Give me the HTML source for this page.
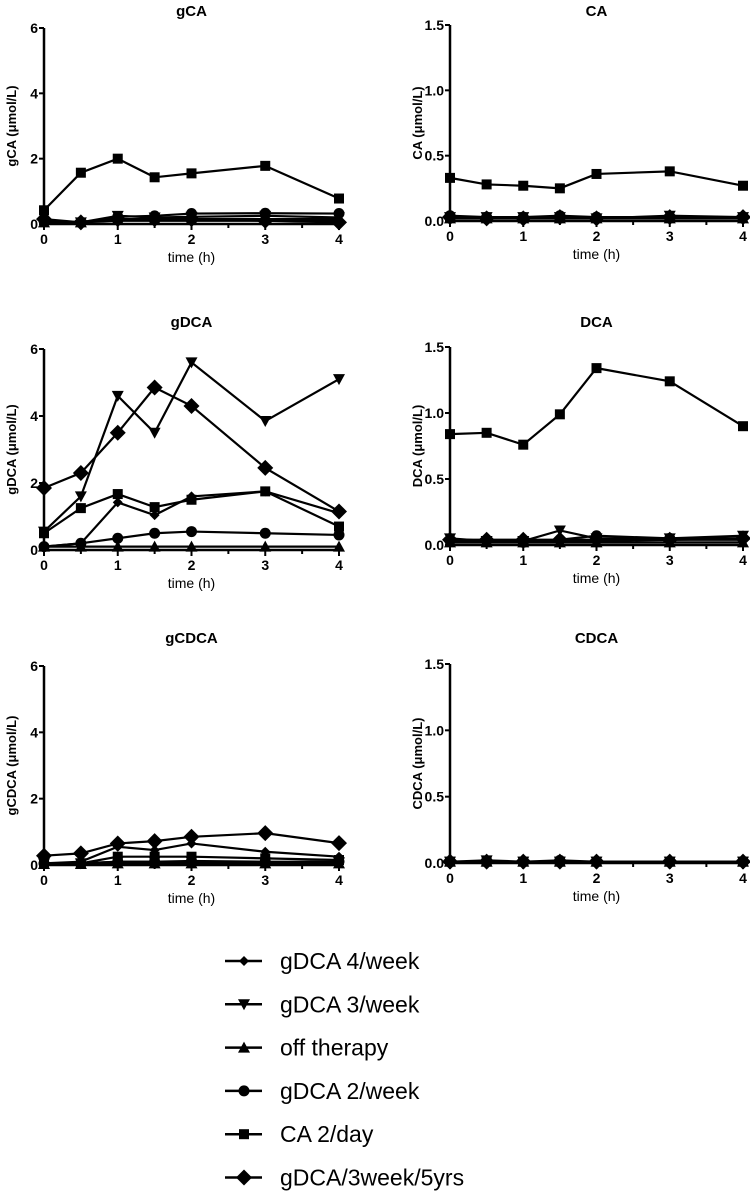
<!DOCTYPE html>
<html><head><meta charset="utf-8"><style>
body{margin:0;background:#fff;}
svg{display:block;font-family:"Liberation Sans",Arial,sans-serif;}
</style></head><body>
<svg id="fig" width="750" height="1194" viewBox="0 0 750 1194"></svg>
<script>
const times=[0,0.5,1,1.5,2,3,4];
const seriesNames=["gDCA 4/week","gDCA 3/week","off therapy","gDCA 2/week","CA 2/day","gDCA/3week/5yrs"];
const seriesMarkers=["smalldiamond","tridown","triup","circle","square","bigdiamond"];
// values per panel, order matches seriesNames
const gCA_vals=[[.1,.05,.1,.1,.1,.1,.1],[.05,.05,.25,.2,.22,.25,.2],[.05,.05,.15,.15,.15,.15,.15],[.1,.05,.22,.25,.32,.33,.32],[.42,1.57,2.0,1.43,1.55,1.78,.78],[.15,.05,.15,.15,.15,.1,.05]];
const CA_vals=[[.02,.02,.02,.02,.02,.02,.02],[.03,.03,.03,.03,.02,.04,.03],[.02,.02,.02,.02,.02,.02,.02],[.04,.03,.03,.04,.03,.03,.03],[.33,.28,.27,.25,.36,.38,.27],[.03,.02,.02,.03,.02,.03,.03]];
const gDCA_vals=[[.1,.2,1.42,1.04,1.6,1.75,1.1],[.55,1.6,4.6,3.5,5.6,3.85,5.1],[.1,.1,.1,.1,.1,.1,.1],[.1,.2,.35,.5,.55,.5,.45],[.5,1.25,1.67,1.28,1.5,1.75,.7],[1.85,2.3,3.5,4.85,4.3,2.45,1.15]];
const DCA_vals=[[.03,.03,.03,.03,.03,.04,.04],[.05,.03,.03,.11,.05,.05,.07],[.02,.02,.02,.02,.02,.02,.02],[.03,.03,.02,.04,.07,.05,.05],[.84,.85,.76,.99,1.34,1.24,.9],[.04,.04,.04,.04,.04,.04,.05]];
const gCDCA_vals=[[.05,.1,.55,.45,.65,.4,.25],[.05,.05,.1,.1,.1,.08,.08],[.03,.03,.05,.05,.05,.05,.05],[.05,.05,.1,.1,.12,.1,.1],[.05,.05,.25,.25,.25,.2,.15],[.28,.35,.65,.72,.85,.96,.66]];
const CDCA_vals=[[.01,.01,.01,.01,.01,.01,.01],[.01,.02,.01,.01,.01,.01,.01],[.01,.01,.01,.01,.01,.01,.01],[.01,.01,.01,.02,.01,.01,.01],[.01,.01,.01,.01,.01,.01,.01],[.01,.01,.01,.01,.01,.01,.01]];
const leftTicks=["0","2","4","6"], leftTickVals=[0,2,4,6];
const rightTicks=["0.0","0.5","1.0","1.5"], rightTickVals=[0,0.5,1,1.5];
const xTicks=[0,1,2,3,4];

const NS="http://www.w3.org/2000/svg";
const svg=document.getElementById('fig');
function mk(t,a,p){const e=document.createElementNS(NS,t);for(const k in a)e.setAttribute(k,a[k]);(p||svg).appendChild(e);return e;}

function marker(g,type,x,y,s){
  let e;
  if(type==="square")e=mk('rect',{x:x-5,y:y-5,width:10,height:10,fill:'#000'},g);
  else if(type==="circle")e=mk('circle',{cx:x,cy:y,r:5.5,fill:'#000'},g);
  else if(type==="tridown")e=mk('polygon',{points:`${x-6},${y-5} ${x+6},${y-5} ${x},${y+6}`,fill:'#000'},g);
  else if(type==="triup")e=mk('polygon',{points:`${x-6},${y+5} ${x+6},${y+5} ${x},${y-6}`,fill:'#000'},g);
  else if(type==="smalldiamond")e=mk('polygon',{points:`${x},${y-5} ${x+5},${y} ${x},${y+5} ${x-5},${y}`,fill:'#000'},g);
  else e=mk('polygon',{points:`${x},${y-8} ${x+8},${y} ${x},${y+8} ${x-8},${y}`,fill:'#000'},g);
  
  
  return e;
}

function panel(name,yTitle,vals,x0,x1,yTop,y0,ymax,ticks,tickVals,titleY){
  const g=mk('g',{});
  
  
  const X=t=>x0+(x1-x0)*t/4, Y=v=>y0-(y0-yTop)*v/ymax;
  const tt=mk('text',{x:(x0+x1)/2,y:titleY,'text-anchor':'middle','font-size':15,'font-weight':'bold'},g);tt.textContent=name;
  
  const ax=mk('path',{d:`M${x0},${yTop}V${y0}H${x1}`,stroke:'#000','stroke-width':2.5,fill:'none'},g);
  
  tickVals.forEach((v,i)=>{mk('line',{x1:x0-5,x2:x0,y1:Y(v),y2:Y(v),stroke:'#000','stroke-width':2},g);
    const t=mk('text',{x:x0-6,y:Y(v)+5,'text-anchor':'end','font-size':14,'font-weight':'bold'},g);t.textContent=ticks[i];
    });
  for(let k=0;k<=8;k++){const xx=X(k/2);mk('line',{x1:xx,x2:xx,y1:y0,y2:y0+(k%2?4:6),stroke:'#000','stroke-width':2},g);}
  xTicks.forEach(v=>{const t=mk('text',{x:X(v),y:y0+20,'text-anchor':'middle','font-size':14,'font-weight':'bold'},g);t.textContent=v;
    });
  const xt=mk('text',{x:(x0+x1)/2,y:y0+38,'text-anchor':'middle','font-size':14},g);xt.textContent='time (h)';
  
  const yc=(yTop+y0)/2, yx=x0-28;
  const yt=mk('text',{x:yx,y:yc,'text-anchor':'middle','font-size':13,'font-weight':'bold',transform:`rotate(-90 ${yx} ${yc})`},g);yt.textContent=yTitle+' (μmol/L)';
  
  vals.forEach((s,si)=>{
    const pts=s.map((v,i)=>X(times[i])+','+Y(v)).join(' ');
    const l=mk('polyline',{points:pts,fill:'none',stroke:'#000','stroke-width':2.2},g);
    
    s.forEach((v,i)=>marker(g,seriesMarkers[si],X(times[i]),Y(v)));
  });
}
panel("gCA","gCA",gCA_vals,44,339,28,224,6,leftTicks,leftTickVals,16);
panel("CA","CA",CA_vals,450,743,25,221,1.5,rightTicks,rightTickVals,16);
panel("gDCA","gDCA",gDCA_vals,44,339,349,550,6,leftTicks,leftTickVals,327);
panel("DCA","DCA",DCA_vals,450,743,347,545,1.5,rightTicks,rightTickVals,327);
panel("gCDCA","gCDCA",gCDCA_vals,44,339,666,865,6,leftTicks,leftTickVals,643);
panel("CDCA","CDCA",CDCA_vals,450,743,664,863,1.5,rightTicks,rightTickVals,643);

const lg=mk('g',{});


seriesNames.forEach((n,i)=>{
  const y=961+i*43.3;
  const e=mk('g',{},lg);
  
  
  mk('line',{x1:225,x2:262,y1:y,y2:y,stroke:'#000','stroke-width':2.5},e);
  marker(e,seriesMarkers[i],244,y);
  const t=mk('text',{x:280,y:y+8,'font-size':23},e);t.textContent=n;
});
</script>
</body></html>
